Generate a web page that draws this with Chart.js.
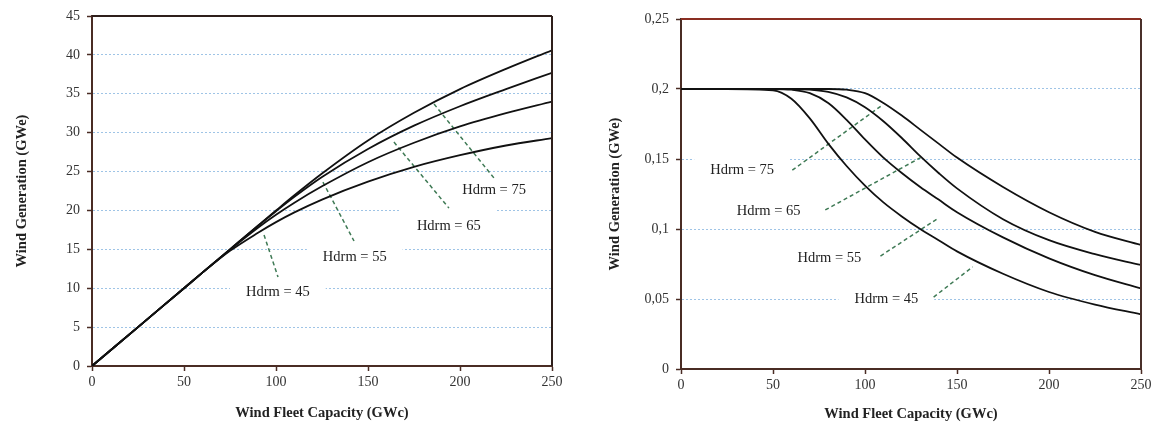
<!DOCTYPE html>
<html>
<head>
<meta charset="utf-8">
<script src="https://cdn.jsdelivr.net/npm/chart.js@4.4.1/dist/chart.umd.min.js"></script>
<style>
  html, body { margin: 0; padding: 0; background: #fff; }
  #wrap { position: relative; width: 1161px; height: 428px; overflow: hidden; background: #fff; }
  #genChart { position: absolute; left: 0; top: 0; }
  #margChart { position: absolute; left: 580px; top: 0; }
</style>
</head>
<body>
<div id="wrap">
  <canvas id="genChart" width="580" height="428"></canvas>
  <canvas id="margChart" width="581" height="428"></canvas>
</div>
<script>
// ---- wind generation vs fleet capacity (GWe) ----
const genCapacity = [0, 25, 50, 60, 75, 90, 100, 110, 125, 150, 175, 200, 225, 250];
const gen45 = [0, 5, 10, 12, 14.8, 17.1, 18.5, 19.75, 21.4, 23.7, 25.6, 27.1, 28.35, 29.3];
const gen55 = [0, 5, 10, 12, 14.95, 17.75, 19.45, 21.0, 23.1, 26.2, 28.7, 30.8, 32.5, 34.0];
const gen65 = [0, 5, 10, 12, 15, 17.98, 19.9, 21.75, 24.3, 27.9, 30.9, 33.4, 35.6, 37.7];
const gen75 = [0, 5, 10, 12, 15, 18, 19.99, 21.95, 24.75, 29.0, 32.55, 35.6, 38.2, 40.6];

// ---- marginal generation per GWc ----
const margCapacity = [0, 25, 50, 60, 70, 80, 90, 100, 110, 120, 130, 140, 150, 175, 200, 225, 250];
const marg45 = [0.2, 0.2, 0.199, 0.193, 0.179, 0.161, 0.145, 0.131, 0.119, 0.109, 0.1, 0.092, 0.084, 0.068, 0.055, 0.046, 0.039];
const marg55 = [0.2, 0.2, 0.2, 0.1995, 0.197, 0.19, 0.178, 0.164, 0.151, 0.14, 0.13, 0.121, 0.112, 0.094, 0.079, 0.067, 0.0575];
const marg65 = [0.2, 0.2, 0.2, 0.2, 0.1995, 0.198, 0.194, 0.187, 0.177, 0.165, 0.152, 0.14, 0.129, 0.107, 0.092, 0.082, 0.0743];
const marg75 = [0.2, 0.2, 0.2, 0.2, 0.2, 0.2, 0.1995, 0.197, 0.19, 0.181, 0.171, 0.161, 0.151, 0.13, 0.112, 0.098, 0.0886];

const headroomLabels = ['Hdrm = 45', 'Hdrm = 55', 'Hdrm = 65', 'Hdrm = 75'];

// label anchors and leader ends, in axis units
const genLabelAt = [[101, 9.55], [142.8, 13.97], [193.9, 18.03], [218.5, 22.6]];
const genLeaders = [
  [[93.5, 16.84], [101.1, 11.44]],
  [[125.5, 23.65], [142.4, 16.07]],
  [[164.1, 28.79], [194, 20.3]],
  [[185.9, 33.68], [218.5, 24.16]]
];
const margLabelAt = [[111.6, 0.05], [80.6, 0.0795], [47.6, 0.1124], [33.2, 0.142]];
const margLeaders = [
  [[137.3, 0.0514], [158.5, 0.0729]],
  [[108.4, 0.0807], [140, 0.1079]],
  [[78.4, 0.1136], [130.2, 0.151]],
  [[60.5, 0.142], [109.5, 0.1886]]
];

const SERIF = '"Liberation Serif", "Times New Roman", serif';
const AXIS = '#4a2c24';
const GRID = '#9fc4e6';
const LEADER = '#3f7a55';
const INK = '#222';

const toPoints = (xs, ys) => xs.map((x, i) => ({ x, y: ys[i] }));

function curve(xs, ys) {
  return {
    data: toPoints(xs, ys),
    borderColor: '#111',
    borderWidth: 1.8,
    pointRadius: 0,
    fill: false,
    cubicInterpolationMode: 'monotone'
  };
}

function leader(pair) {
  return {
    data: pair.map(p => ({ x: p[0], y: p[1] })),
    borderColor: LEADER,
    borderWidth: 1.5,
    borderDash: [4, 3],
    pointRadius: 0,
    fill: false
  };
}

// white boxes under the Hdrm labels, then the text; frame on top/right
const annotations = {
  id: 'annotations',
  beforeDatasetsDraw(chart, args, opts) {
    const { ctx, scales: { x, y } } = chart;
    ctx.save();
    ctx.font = '14.5px ' + SERIF;
    ctx.textAlign = 'center';
    ctx.textBaseline = 'middle';
    opts.labels.forEach((text, i) => {
      const px = x.getPixelForValue(opts.at[i][0]);
      const py = y.getPixelForValue(opts.at[i][1]);
      const w = ctx.measureText(text).width;
      ctx.fillStyle = '#fff';
      ctx.fillRect(px - w / 2 - 16, py - 16, w + 32, 26);
      ctx.fillStyle = INK;
      ctx.fillText(text, px, py);
    });
    ctx.restore();
  },
  afterDraw(chart, args, opts) {
    const { ctx, chartArea: a } = chart;
    ctx.save();
    ctx.lineWidth = 2;
    ctx.strokeStyle = opts.topColor;
    ctx.beginPath();
    ctx.moveTo(a.left, a.top);
    ctx.lineTo(a.right, a.top);
    ctx.stroke();
    ctx.strokeStyle = opts.rightColor;
    ctx.beginPath();
    ctx.moveTo(a.right, a.top);
    ctx.lineTo(a.right, a.bottom);
    ctx.stroke();
    ctx.restore();
  }
};

function buildOptions(cfg) {
  return {
    responsive: false,
    animation: false,
    layout: { padding: { top: cfg.top, right: cfg.right, left: 0, bottom: 0 } },
    plugins: {
      legend: { display: false },
      tooltip: { enabled: false },
      annotations: {
        labels: headroomLabels,
        at: cfg.labelAt,
        topColor: cfg.topColor,
        rightColor: cfg.rightColor
      }
    },
    scales: {
      x: {
        type: 'linear',
        min: 0,
        max: 250,
        ticks: { stepSize: 50, color: '#333', padding: 3, font: { family: SERIF, size: 14 } },
        grid: { drawOnChartArea: false, tickLength: 5, tickColor: AXIS, tickWidth: 1.5 },
        border: { color: AXIS, width: 2 },
        title: {
          display: true,
          text: 'Wind Fleet Capacity (GWc)',
          color: INK,
          font: { family: SERIF, size: 14.5, weight: 'bold' },
          padding: { top: 0, bottom: cfg.xTitlePad }
        },
        afterFit(s) { s.height = cfg.xAxisHeight; }
      },
      y: {
        type: 'linear',
        min: 0,
        max: cfg.yMax,
        ticks: {
          stepSize: cfg.yStep,
          color: '#333',
          padding: 7,
          font: { family: SERIF, size: 14 },
          callback: cfg.yFormat
        },
        grid: {
          color: c => (c.tick && (c.tick.value === 0 || Math.abs(c.tick.value - cfg.yMax) < 1e-9)) ? 'rgba(0,0,0,0)' : GRID,
          lineWidth: 1,
          tickLength: 5,
          tickColor: AXIS,
          tickWidth: 1.5,
          tickBorderDash: []
        },
        border: { color: AXIS, width: 2, dash: [2, 2] },
        title: {
          display: true,
          text: 'Wind Generation (GWe)',
          color: INK,
          font: { family: SERIF, size: 14.5, weight: 'bold' },
          padding: { top: cfg.yTitlePad, bottom: 0 }
        },
        afterFit(s) { s.width = cfg.yAxisWidth; }
      }
    }
  };
}

new Chart(document.getElementById('genChart'), {
  type: 'line',
  data: {
    datasets: [
      curve(genCapacity, gen45),
      curve(genCapacity, gen55),
      curve(genCapacity, gen65),
      curve(genCapacity, gen75),
      ...genLeaders.map(leader)
    ]
  },
  options: buildOptions({
    top: 16, right: 28, xAxisHeight: 62, yAxisWidth: 92,
    xTitlePad: 6, yTitlePad: 14,
    yMax: 45, yStep: 5, yFormat: v => String(v),
    labelAt: genLabelAt, topColor: '#2e1f1b', rightColor: '#2e1f1b'
  }),
  plugins: [annotations]
});

new Chart(document.getElementById('margChart'), {
  type: 'line',
  data: {
    datasets: [
      curve(margCapacity, marg45),
      curve(margCapacity, marg55),
      curve(margCapacity, marg65),
      curve(margCapacity, marg75),
      ...margLeaders.map(leader)
    ]
  },
  options: buildOptions({
    top: 19, right: 20, xAxisHeight: 59, yAxisWidth: 101,
    xTitlePad: 5, yTitlePad: 27,
    yMax: 0.25, yStep: 0.05,
    yFormat: v => String(Math.round(v * 100) / 100).replace('.', ','),
    labelAt: margLabelAt, topColor: '#8a2e22', rightColor: '#4a302a'
  }),
  plugins: [annotations]
});
</script>
</body>
</html>
